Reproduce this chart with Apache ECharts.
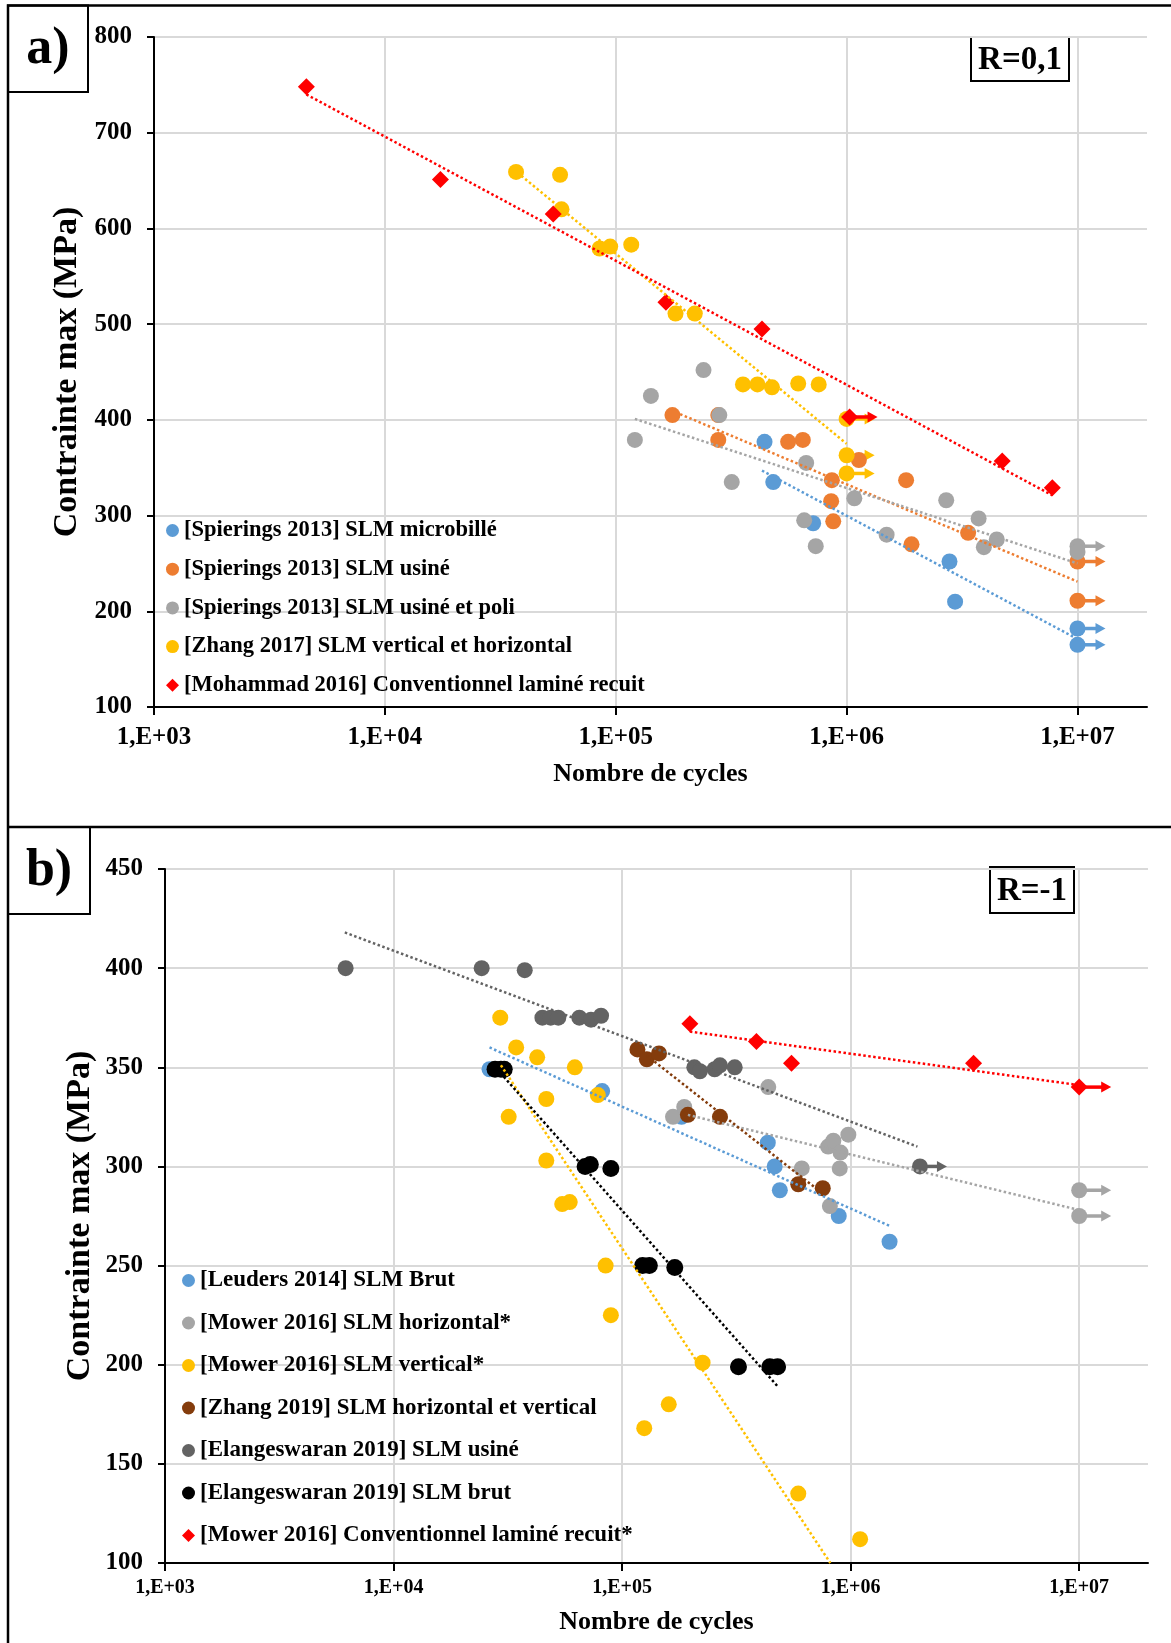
<!DOCTYPE html>
<html>
<head>
<meta charset="utf-8">
<title>Contrainte max - Nombre de cycles</title>
<script src="https://cdn.jsdelivr.net/npm/echarts@6.0.0/dist/echarts.min.js"></script>
<style>
  html, body { margin: 0; padding: 0; background: #fff; }
  #chart { width: 1171px; height: 1643px; }
</style>
</head>
<body>
<div id="chart"></div>
<script>
// ---------- a) R=0,1 ----------
const spieringsMicro = [[441000,377],[481000,335],[716000,292],[2790000,252],[2950000,210],[1e7,182],[1e7,165]];
const spieringsUsine = [[176000,405],[278000,405],[278000,379],[558000,377],[646000,379],[1130000,358],[863000,337],[857000,315],[875000,294],[1810000,337],[1910000,270],[3360000,282],[1e7,252],[1e7,211]];
const spieringsPoli = [[121000,379],[142000,425],[240000,452],[281000,405],[318000,335],[668000,355],[655000,295],[735000,268],[1080000,318],[1490000,280],[2700000,316],[3730000,297],[3930000,267],[4470000,275],[1e7,268],[1e7,262]];
const zhang2017 = [[37000,659],[57400,656],[58200,620],[85100,579],[94600,581],[116700,583],[181500,511],[220000,511],[355600,437],[411000,437],[475000,434],[617000,438],[757000,437],[1e6,401],[1e6,363],[1e6,344]];
const mohammad2016 = [[4570,748],[17400,651],[53600,615],[165000,523],[430000,495],[1030000,403],[4720000,357],[7780000,329]];

// runouts (arrows)
const microRunout = [[1e7,182],[1e7,165]];
const usineRunout = [[1e7,252],[1e7,211]];
const poliRunout = [[1e7,268]];
const zhang2017Runout = [[1e6,401],[1e6,363],[1e6,344]];
const mohammadRunout = [[1030000,403]];

// trendlines (end points read on the picture)
const microTrend = [[430000,347],[1e7,171]];
const usineTrend = [[190000,406],[1e7,231]];
const poliTrend = [[121000,401],[1e7,250]];
const zhang2017Trend = [[39000,655],[1e6,375]];
const mohammadTrend = [[4570,740],[7800000,321]];

const namesA = [
  '[Spierings 2013] SLM microbillé',
  '[Spierings 2013] SLM usiné',
  '[Spierings 2013] SLM usiné et poli',
  '[Zhang 2017] SLM vertical et horizontal',
  '[Mohammad 2016] Conventionnel laminé recuit'
];

// ---------- b) R=-1 ----------
const leuders2014 = [[26300,349],[81800,338],[182000,325],[434000,312],[465000,300],[490000,288],[887000,275],[1480000,262]];
const mowerH = [[167000,325],[187000,330],[436000,340],[611000,299],[797000,310],[840000,313],[903000,307],[977000,316],[896000,299],[811000,280],[1e7,288],[1e7,275]];
const mowerV = [[29300,375],[34400,360],[42500,355],[62100,350],[46600,334],[31900,325],[46600,303],[54700,281],[59000,282],[78300,336],[84700,250],[89300,225],[225000,201],[160000,180],[125000,168],[590000,135],[1100000,112]];
const zhang2019 = [[116700,359],[128300,354],[145000,357],[194000,326],[268000,325],[590000,291],[755000,289]];
const elangUsine = [[6170,400],[24300,400],[37500,399],[44800,375],[48700,375],[52600,375],[65000,375],[73100,374],[80900,376],[207000,350],[219000,348],[254000,349],[268000,351],[311000,350],[2010000,300]];
const elangBrut = [[27800,349],[29500,349],[30500,349],[68900,300],[72600,301],[89300,299],[123000,250],[131600,250],[170000,249],[323000,199],[443000,199],[479000,199]];
const mowerConv = [[198000,372],[387000,363],[551000,352],[3450000,352],[1e7,340]];

const mowerHRunout = [[1e7,288],[1e7,275]];
const elangUsineRunout = [[2010000,300]];
const mowerConvRunout = [[1e7,340]];

const leudersTrend = [[26300,360],[1480000,270]];
const mowerHTrend = [[194000,326],[1e7,278]];
const mowerVTrend = [[29500,351],[815000,100]];
const zhang2019Trend = [[128000,356],[760000,286]];
const elangUsineTrend = [[6120,418],[1960000,310]];
const elangBrutTrend = [[28400,349],[480000,189]];
const mowerConvTrend = [[198000,368],[1e7,341]];

const namesB = [
  '[Leuders 2014] SLM Brut',
  '[Mower 2016] SLM horizontal*',
  '[Mower 2016] SLM vertical*',
  '[Zhang 2019] SLM horizontal et vertical',
  '[Elangeswaran 2019] SLM usiné',
  '[Elangeswaran 2019] SLM brut',
  '[Mower 2016] Conventionnel laminé recuit*'
];

const yTicksA = [100, 800, 100];   // min, max, interval
const yTicksB = [100, 450, 50];
const xMin = 1e3;
const xMax = 2e7;

const SERIF = "'Liberation Serif', 'Times New Roman', serif";

function scatter(name, data, color, idx, symbol, size) {
  return {
    name: name, type: 'scatter', xAxisIndex: idx, yAxisIndex: idx,
    data: data, symbol: symbol || 'circle', symbolSize: size || 16,
    itemStyle: { color: color, opacity: 1 }, z: 4, silent: true
  };
}

function trend(data, color, idx) {
  return {
    name: 'trend', type: 'line', xAxisIndex: idx, yAxisIndex: idx,
    data: data, symbol: 'none', silent: true, z: 5,
    lineStyle: { color: color, width: 2.5, type: 'dotted' }
  };
}

function arrows(data, color, idx, len) {
  return {
    name: 'runout', type: 'custom', xAxisIndex: idx, yAxisIndex: idx,
    data: data, silent: true, z: 3, encode: { x: 0, y: 1 },
    itemStyle: { color: color },
    renderItem: function (params, api) {
      const p = api.coord([api.value(0), api.value(1)]);
      const head = 10, half = 5.5;
      return {
        type: 'group',
        children: [
          { type: 'line', shape: { x1: p[0], y1: p[1], x2: p[0] + len - head + 1, y2: p[1] },
            style: { stroke: color, lineWidth: 3.5 } },
          { type: 'polygon', shape: { points: [[p[0] + len - head, p[1] - half], [p[0] + len, p[1]], [p[0] + len - head, p[1] + half]] },
            style: { fill: color } }
        ]
      };
    }
  };
}

function xAxis(idx, labelSize, labelMargin, nameGap) {
  return {
    type: 'log', logBase: 10, gridIndex: idx, min: xMin, max: xMax,
    name: 'Nombre de cycles', nameLocation: 'middle', nameGap: nameGap, nameMoveOverlap: false,
    nameTextStyle: { fontFamily: SERIF, fontWeight: 'bold', fontSize: 26, color: '#000' },
    axisLine: { show: true, onZero: false, lineStyle: { color: '#000', width: 2 } },
    axisTick: { show: true, length: 8, lineStyle: { color: '#000', width: 2 } },
    minorTick: { show: false },
    splitLine: { show: true, showMaxLine: false, lineStyle: { color: '#d9d9d9', width: 2 } },
    axisLabel: {
      fontFamily: SERIF, fontWeight: 'bold', fontSize: labelSize, color: '#000', margin: labelMargin,
      showMaxLabel: false,
      formatter: function (v) {
        const e = Math.log10(v);
        if (Math.abs(e - Math.round(e)) > 1e-6) return '';
        return '1,E+' + String(Math.round(e)).padStart(2, '0');
      }
    }
  };
}

function yAxis(idx, ticks, nameGap) {
  return {
    type: 'value', gridIndex: idx, min: ticks[0], max: ticks[1], interval: ticks[2],
    name: 'Contrainte max (MPa)', nameLocation: 'middle', nameGap: nameGap, nameMoveOverlap: false,
    nameTextStyle: { fontFamily: SERIF, fontWeight: 'bold', fontSize: 34, color: '#000' },
    axisLine: { show: true, lineStyle: { color: '#000', width: 2 } },
    axisTick: { show: true, length: 7, lineStyle: { color: '#000', width: 2 } },
    splitLine: { show: true, lineStyle: { color: '#d9d9d9', width: 2 } },
    axisLabel: { fontFamily: SERIF, fontWeight: 'bold', fontSize: 25, color: '#000', margin: 22 }
  };
}

function legend(names, icons, top, left, gap, size) {
  return {
    orient: 'vertical', left: left, top: top, itemGap: gap, selectedMode: false,
    itemWidth: 13, itemHeight: 13, padding: 0,
    textStyle: { fontFamily: SERIF, fontWeight: 'bold', fontSize: size, color: '#000', lineHeight: 22 },
    data: names.map(function (n, i) { return { name: n, icon: icons[i] }; })
  };
}

function box(x, y, w, h, text, size) {
  return {
    type: 'group', z: 20,
    children: [
      { type: 'rect', shape: { x: x, y: y, width: w, height: h },
        style: { fill: '#fff', stroke: '#000', lineWidth: 2 } },
      { type: 'text', x: x + w / 2, y: y + h / 2 + 1,
        style: { text: text, fill: '#000', font: 'bold ' + size + 'px ' + SERIF, align: 'center', verticalAlign: 'middle' } }
    ]
  };
}

const initChart = function () {
  const myChart = echarts.init(document.getElementById('chart'), null, { renderer: 'canvas' });

  const seriesA = [
    arrows(microRunout, '#5b9bd5', 0, 28),
    arrows(usineRunout, '#ed7d31', 0, 28),
    arrows(poliRunout, '#a5a5a5', 0, 28),
    arrows(zhang2017Runout, '#ffc000', 0, 28),
    arrows(mohammadRunout, '#ff0000', 0, 28),
    scatter(namesA[0], spieringsMicro, '#5b9bd5', 0),
    scatter(namesA[1], spieringsUsine, '#ed7d31', 0),
    scatter(namesA[2], spieringsPoli, '#a5a5a5', 0),
    scatter(namesA[3], zhang2017, '#ffc000', 0),
    scatter(namesA[4], mohammad2016, '#ff0000', 0, 'diamond', 17),
    trend(microTrend, '#5b9bd5', 0),
    trend(usineTrend, '#ed7d31', 0),
    trend(poliTrend, '#a5a5a5', 0),
    trend(zhang2017Trend, '#ffc000', 0),
    trend(mohammadTrend, '#ff0000', 0)
  ];

  const seriesB = [
    arrows(mowerHRunout, '#a5a5a5', 1, 32),
    arrows(elangUsineRunout, '#636363', 1, 27),
    arrows(mowerConvRunout, '#ff0000', 1, 32),
    scatter(namesB[0], leuders2014, '#5b9bd5', 1),
    scatter(namesB[1], mowerH, '#a5a5a5', 1),
    scatter(namesB[2], mowerV, '#ffc000', 1),
    scatter(namesB[3], zhang2019, '#843c0c', 1),
    scatter(namesB[4], elangUsine, '#636363', 1),
    scatter(namesB[5], elangBrut, '#000000', 1, 'circle', 17),
    scatter(namesB[6], mowerConv, '#ff0000', 1, 'diamond', 17),
    trend(leudersTrend, '#5b9bd5', 1),
    trend(mowerHTrend, '#a5a5a5', 1),
    trend(mowerVTrend, '#ffc000', 1),
    trend(zhang2019Trend, '#843c0c', 1),
    trend(elangUsineTrend, '#636363', 1),
    trend(elangBrutTrend, '#000000', 1),
    trend(mowerConvTrend, '#ff0000', 1)
  ];

  const option = {
    backgroundColor: '#fff',
    animation: false,
    grid: [
      { left: 154, right: 24, top: 37, bottom: 936, containLabel: false },
      { left: 165, right: 23, top: 869, bottom: 80, containLabel: false }
    ],
    xAxis: [xAxis(0, 25, 18, 54), xAxis(1, 20, 15, 46)],
    yAxis: [yAxis(0, yTicksA, 70), yAxis(1, yTicksB, 68)],
    legend: [
      legend(namesA, ['circle', 'circle', 'circle', 'circle', 'diamond'], 519, 166, 15.7, 22.5),
      legend(namesB, ['circle', 'circle', 'circle', 'circle', 'circle', 'circle', 'diamond'], 1269, 182, 19.5, 23)
    ],
    graphic: [
      { type: 'polyline', z: 20, shape: { points: [[8, 1643], [8, 5.5], [1171, 5.5]] },
        style: { stroke: '#000', lineWidth: 2.5, fill: null } },
      { type: 'line', z: 20, shape: { x1: 8, y1: 827, x2: 1171, y2: 827 },
        style: { stroke: '#000', lineWidth: 2.5 } },
      box(8, 5.5, 80, 86.5, 'a)', 52),
      box(8, 827, 82, 87, 'b)', 52),
      box(971, 37, 98, 44, 'R=0,1', 33),
      box(990, 867, 84, 46, 'R=-1', 33)
    ],
    series: seriesA.concat(seriesB)
  };

  myChart.setOption(option);
};

window.addEventListener('load', function () {
  initChart();
});
</script>
</body>
</html>
